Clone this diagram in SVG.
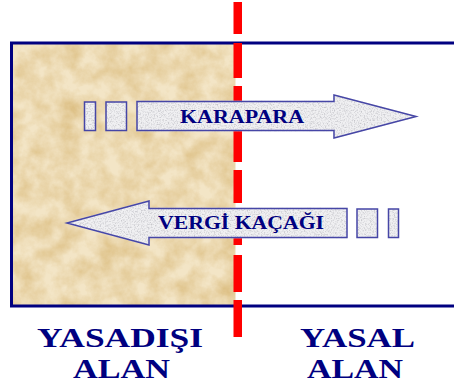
<svg xmlns="http://www.w3.org/2000/svg" width="454" height="388" viewBox="0 0 454 388">
<defs>
<filter id="parch" x="0" y="0" width="100%" height="100%" color-interpolation-filters="sRGB">
<feTurbulence type="fractalNoise" baseFrequency="0.05" numOctaves="5" seed="3" result="n"/>
<feColorMatrix in="n" type="matrix" values="0 0 0 0 0.86  0 0 0 0 0.74  0 0 0 0 0.50  0 0 0 -1.4 1.0" result="c"/>
<feFlood flood-color="#F3E5C6" result="base"/>
<feComposite in="c" in2="base" operator="over" result="m"/>
<feComposite in="m" in2="SourceGraphic" operator="in"/>
</filter>
<filter id="speck" x="0" y="0" width="100%" height="100%" color-interpolation-filters="sRGB">
<feTurbulence type="fractalNoise" baseFrequency="0.7" numOctaves="2" seed="5" result="n"/>
<feColorMatrix in="n" type="matrix" values="0 0 0 0 0.78  0 0 0 0 0.78  0 0 0 0 0.80  0 0 0 -2.5 1.4" result="c"/>
<feFlood flood-color="#F0F0F2" result="base"/>
<feComposite in="c" in2="base" operator="over" result="m"/>
<feComposite in="m" in2="SourceGraphic" operator="in"/>
</filter>
</defs>
<style>
.box{fill:#EDEDEF;stroke:#4646A6;stroke-width:1.5}
.line{fill:none;stroke:#4646A6;stroke-width:1.5}
.lbl{font-family:"Liberation Serif","Times New Roman",Times,"DejaVu Serif","Noto Serif",serif;font-weight:700;fill:#000080}
.dash{fill:#FF0000}
</style>
<rect width="454" height="388" fill="#FFFFFF"/>
<g id="illegal-area">
<rect x="12.5" y="44" width="223" height="261.5" fill="#EEDDB5" filter="url(#parch)"/>
</g>
<g id="frame">
<rect x="11.5" y="43" width="460" height="263" fill="none" stroke="#000080" stroke-width="3"/>
</g>
<g id="divider">
<rect class="dash" x="233.5" y="2" width="8.5" height="32"/>
<rect class="dash" x="233.5" y="43" width="8.5" height="35"/>
<rect class="dash" x="233.5" y="86" width="8.5" height="76"/>
<rect class="dash" x="233.5" y="170" width="8.5" height="33"/>
<rect class="dash" x="233.5" y="210" width="8.5" height="35"/>
<rect class="dash" x="233.5" y="255" width="8.5" height="37"/>
<rect class="dash" x="233.5" y="300" width="8.5" height="37"/>
</g>
<g id="connectors">
<g id="arrow-karapara">
<rect class="box" x="84.5" y="102" width="11" height="28.5" filter="url(#speck)"/>
<rect class="line" x="84.5" y="102" width="11" height="28.5"/>
<rect class="box" x="106" y="102" width="20.5" height="28.5" filter="url(#speck)"/>
<rect class="line" x="106" y="102" width="20.5" height="28.5"/>
<path class="box" d="M137,101.5 H334 V95 L416,116.5 L334,138 V130.5 H137 Z" filter="url(#speck)"/>
<path class="line" d="M137,101.5 H334 V95 L416,116.5 L334,138 V130.5 H137 Z"/>
<text class="lbl" x="180" y="123" font-size="19" textLength="124" lengthAdjust="spacingAndGlyphs">KARAPARA</text>
</g>
<g id="arrow-vergi">
<path class="box" d="M347,208.5 H149 V201 L67,223 L149,245 V237.5 H347 Z" filter="url(#speck)"/>
<path class="line" d="M347,208.5 H149 V201 L67,223 L149,245 V237.5 H347 Z"/>
<rect class="box" x="357" y="209" width="20.5" height="28.5" filter="url(#speck)"/>
<rect class="line" x="357" y="209" width="20.5" height="28.5"/>
<rect class="box" x="388.5" y="209" width="10" height="28.5" filter="url(#speck)"/>
<rect class="line" x="388.5" y="209" width="10" height="28.5"/>
<text class="lbl" x="158" y="229" font-size="18" textLength="166" lengthAdjust="spacingAndGlyphs">VERGİ KAÇAĞI</text>
</g>
</g>
<g id="label-illegal">
<text class="lbl" x="37" y="347" font-size="27" textLength="166" lengthAdjust="spacingAndGlyphs">YASADIŞI</text>
<text class="lbl" x="73" y="378" font-size="27" textLength="97" lengthAdjust="spacingAndGlyphs">ALAN</text>
</g>
<g id="label-legal">
<text class="lbl" x="300" y="347" font-size="27" textLength="115" lengthAdjust="spacingAndGlyphs">YASAL</text>
<text class="lbl" x="307" y="378" font-size="27" textLength="96" lengthAdjust="spacingAndGlyphs">ALAN</text>
</g>
</svg>
